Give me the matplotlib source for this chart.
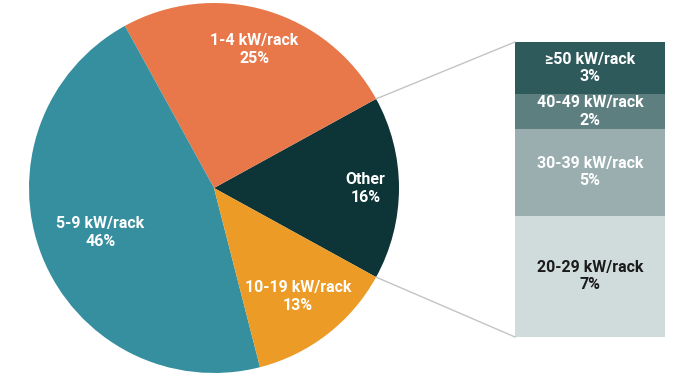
import numpy as np
import matplotlib.pyplot as plt

plt.rcParams['font.family'] = ['Roboto', 'DejaVu Sans']

# pie data (counter-clockwise from the "Other" slice)
pie_labels = ["Other", "1-4 kW/rack", "5-9 kW/rack", "10-19 kW/rack"]
pie_values = [16, 25, 46, 13]
pie_colors = ["#0d3437", "#e8784a", "#368f9e", "#eb9b26"]

# breakdown of "Other", bottom to top
bar_labels = ["20-29 kW/rack", "30-39 kW/rack", "40-49 kW/rack", "\u226550 kW/rack"]
bar_values = [7, 5, 2, 3]
bar_colors = ["#d0dbdb", "#9aaeaf", "#5e7f80", "#2f5a5b"]
bar_text = ["#1a1a1a", "white", "white", "white"]

fig = plt.figure(figsize=(6.77, 3.74), dpi=100)
ax = fig.add_axes([0, 0, 1, 1])

cx, cy, R = 214, 186, 185
start = -pie_values[0] / 100 * 180
wedges, _ = ax.pie(pie_values, colors=pie_colors, startangle=start,
                   center=(cx, cy), radius=R, counterclock=True,
                   wedgeprops=dict(linewidth=0), frame=True)
ax.set_xlim(0, 677)
ax.set_ylim(0, 374)
ax.set_aspect('equal')
ax.axis('off')

label_r = [0.82, 0.78, 0.66, 0.74]
for w, lab, v, f in zip(wedges, pie_labels, pie_values, label_r):
    mid = np.deg2rad((w.theta1 + w.theta2) / 2)
    ax.text(cx + f * R * np.cos(mid), cy + f * R * np.sin(mid),
            f"{lab}\n{v}%", ha='center', va='center', color='white',
            fontsize=11.5, fontweight='bold', linespacing=1.25)

# stacked bar for "Other"
bx, bw = 590, 150
scale = 295 / sum(bar_values)
bottom = 37
for lab, v, c, tc in zip(bar_labels, bar_values, bar_colors, bar_text):
    h = v * scale
    ax.bar(bx, h, width=bw, bottom=bottom, color=c, linewidth=0)
    ax.text(bx, bottom + h / 2, f"{lab}\n{v}%", ha='center', va='center',
            color=tc, fontsize=11.5, fontweight='bold', linespacing=1.2)
    bottom += h

# connector lines
w0 = wedges[0]
for ang, yb in [(w0.theta2, bottom), (w0.theta1, 37)]:
    a = np.deg2rad(ang)
    ax.plot([cx + R * np.cos(a), bx - bw / 2], [cy + R * np.sin(a), yb],
            color='#c4c4c4', linewidth=1)

fig.savefig("out.png", dpi=100)
